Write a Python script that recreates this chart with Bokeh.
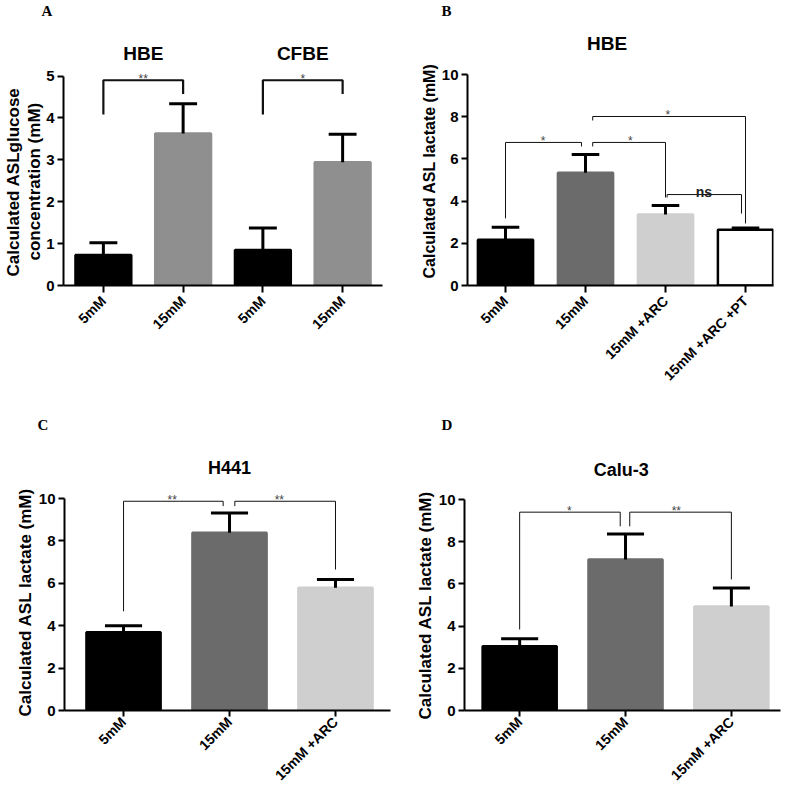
from bokeh.plotting import figure
from bokeh.models import FixedTicker, ColumnDataSource, Title
from bokeh.layouts import column, row
from bokeh.embed import file_html
from bokeh.resources import INLINE
from bokeh.core.properties import value
import math

# ---------------- data ----------------
a_labels = ["5mM", "15mM", "5mM", "15mM"]
a_means = [0.73, 3.63, 0.85, 2.94]
a_errs = [0.29, 0.71, 0.52, 0.67]
a_colors = ["#000000", "#8f8f8f", "#000000", "#8f8f8f"]
a_groups = ["HBE", "CFBE"]

b_labels = ["5mM", "15mM", "15mM +ARC", "15mM +ARC +PT"]
b_means = [2.17, 5.34, 3.36, 2.64]
b_errs = [0.59, 0.87, 0.43, 0.09]
b_colors = ["#000000", "#6b6b6b", "#cfcfcf", "#ffffff"]

c_labels = ["5mM", "15mM", "15mM +ARC"]
c_means = [3.69, 8.38, 5.79]
c_errs = [0.31, 0.94, 0.39]
c_colors = ["#000000", "#6b6b6b", "#cfcfcf"]

d_labels = ["5mM", "15mM", "15mM +ARC"]
d_means = [3.05, 7.16, 4.93]
d_errs = [0.35, 1.21, 0.88]
d_colors = ["#000000", "#6b6b6b", "#cfcfcf"]

# significance brackets: (x_left, x_right, y_top, y_left_end, y_right_end, text, text_x)
a_brackets = [(1, 2, 4.9, 4.08, 4.57, "**", 1.5), (3, 4, 4.9, 4.08, 4.57, "*", 3.5)]
b_brackets = [(1, 1.95, 6.78, 3.18, 6.59, "*", 1.47),
              (2.09, 3, 6.78, 6.59, 4.17, "*", 2.56),
              (2.09, 4, 8.01, 7.82, 2.94, "*", 3.03),
              (3.02, 3.95, 4.31, 4.17, 3.41, "ns", 3.48)]
c_brackets = [(1, 1.94, 9.87, 4.68, 9.64, "**", 1.46),
              (2.05, 3, 9.87, 9.64, 6.65, "**", 2.47)]
d_brackets = [(1, 1.95, 9.40, 3.84, 8.73, "*", 1.47),
              (2.04, 3, 9.40, 8.73, 6.21, "**", 2.48)]

SANS = "Liberation Sans"
SERIF = "Liberation Serif"


def panel(W, H, left, right, top, bottom, xr, px_per_unit, ymax_axis, ystep,
          labels, means, errs, colors, ylabels, ylabel_size, bar_w,
          brackets, bracket_w, letter, letter_offset, titles, title_size,
          xlabel_standoff=6, xtick_out=7, ylabel_standoff=2):
    frame_h = H - bottom - top
    y_end = frame_h / px_per_unit
    p = figure(width=W, height=H, x_range=xr, y_range=(0, y_end),
               output_backend="svg", toolbar_location=None, title=letter,
               min_border_left=left, min_border_right=right,
               min_border_top=top, min_border_bottom=bottom)
    # panel letter as the plot title
    p.title.align = "left"
    p.title.offset = letter_offset
    p.title.standoff = 0
    p.title.text_font = SERIF
    p.title.text_font_style = "bold"
    p.title.text_font_size = "15px"
    p.title.text_color = "black"

    p.outline_line_color = None
    p.grid.visible = False
    p.background_fill_color = "white"
    p.border_fill_color = "white"

    n = len(labels)
    xs = list(range(1, n + 1))
    src = ColumnDataSource(dict(x=xs, top=means, color=colors,
                                up=[m + e for m, e in zip(means, errs)]))
    src.data["lc"] = ["#000000" if c == "#ffffff" else c for c in colors]
    p.vbar(x="x", top="top", bottom=0, width=bar_w, fill_color="color",
           line_color="lc", line_width=2.5, source=src)
    # error bars (upper only)
    p.segment(x0="x", y0="top", x1="x", y1="up", line_color="black",
              line_width=3, source=src)
    p.segment(x0=[x - bar_w / 4 for x in xs], y0=src.data["up"],
              x1=[x + bar_w / 4 for x in xs], y1=src.data["up"],
              line_color="black", line_width=3)

    # brackets
    for (xl, xr2, yt, yl, yr, txt, tx) in brackets:
        p.line(x=[xl, xl, xr2, xr2], y=[yl, yt, yt, yr], line_color="#111111",
               line_width=bracket_w)
        if txt == "ns":
            p.text(x=[tx], y=[yt], text=[txt], text_align="center",
                   text_baseline="alphabetic", y_offset=-3,
                   text_font=value(SANS), text_font_size="14px",
                   text_font_style="bold", text_color="#222222")
        else:
            p.text(x=[tx], y=[yt], text=[txt], text_align="center",
                   text_baseline="alphabetic", y_offset=-1,
                   text_font=value(SANS), text_font_size="12px",
                   text_color="#444444")

    # group / cell-line titles
    for (tx, ty, tt) in titles:
        p.text(x=[tx], y=[ty], text=[tt], text_align="center",
               text_baseline="middle", text_font=value(SANS),
               text_font_size=title_size, text_font_style="bold",
               text_color="black")

    # axes
    xa = p.xaxis[0]
    xa.ticker = FixedTicker(ticks=xs)
    xa.major_label_overrides = {i + 1: l for i, l in enumerate(labels)}
    xa.major_label_orientation = math.pi / 4
    xa.major_label_text_font = SANS
    xa.major_label_text_font_style = "bold"
    xa.major_label_text_font_size = "14px"
    xa.major_label_text_color = "black"
    xa.axis_line_width = 2
    xa.axis_line_color = "black"
    xa.major_tick_line_width = 2
    xa.major_tick_line_color = "black"
    xa.major_tick_out = xtick_out
    xa.major_tick_in = 0
    xa.minor_tick_line_color = None
    xa.major_label_standoff = xlabel_standoff

    ya = p.yaxis[0]
    ya.ticker = FixedTicker(ticks=list(range(0, ymax_axis + 1, ystep)))
    ya.bounds = (0, ymax_axis)
    ya.major_label_text_font = SANS
    ya.major_label_text_font_style = "bold"
    ya.major_label_text_font_size = "15px"
    ya.major_label_text_color = "black"
    ya.axis_line_width = 2
    ya.axis_line_color = "black"
    ya.major_tick_line_width = 2
    ya.major_tick_line_color = "black"
    ya.major_tick_out = 6
    ya.major_tick_in = 0
    ya.minor_tick_line_color = None
    ya.major_label_standoff = 3

    # y-axis title lines (innermost first), placed as side titles
    for (txt, off) in ylabels:
        p.add_layout(Title(text=txt, align="left", offset=off,
                           standoff=ylabel_standoff,
                           text_font=SANS, text_font_style="bold",
                           text_font_size=ylabel_size, text_color="black"),
                     "left")
    return p


pA = panel(W=394, H=400, left=63, right=12, top=18, bottom=113, xr=(0.5, 4.5),
           px_per_unit=42.2, ymax_axis=5, ystep=1,
           labels=a_labels, means=a_means, errs=a_errs, colors=a_colors,
           ylabels=[("concentration (mM)", 25), ("Calculated ASLglucose", 9)],
           ylabel_size="17px", ylabel_standoff=0,
           bar_w=0.7, brackets=a_brackets, bracket_w=2.2,
           letter="A", letter_offset=-22,
           titles=[(1.5, 5.55, a_groups[0]), (3.5, 5.55, a_groups[1])],
           title_size="19px")

pB = panel(W=393, H=400, left=73, right=14, top=18, bottom=115, xr=(0.525, 4.35),
           px_per_unit=21.1, ymax_axis=10, ystep=2,
           labels=b_labels, means=b_means, errs=b_errs, colors=b_colors,
           ylabels=[("Calculated ASL lactate (mM)", 7)], ylabel_size="16px",
           bar_w=0.69, brackets=b_brackets, bracket_w=1,
           letter="B", letter_offset=-26,
           titles=[(2.27, 11.47, "HBE")], title_size="19px")

pC = panel(W=394, H=394, left=64, right=4, top=32, bottom=84, xr=(0.443, 3.519),
           px_per_unit=21.2, ymax_axis=10, ystep=2,
           labels=c_labels, means=c_means, errs=c_errs, colors=c_colors,
           ylabels=[("Calculated ASL lactate (mM)", -6)], ylabel_size="17px",
           bar_w=0.7, brackets=c_brackets, bracket_w=1,
           letter="C", letter_offset=-27,
           titles=[(2.0, 11.46, "H441")], title_size="18px",
           xlabel_standoff=3, xtick_out=6)

pD = panel(W=393, H=394, left=70, right=7, top=32, bottom=84, xr=(0.479, 3.464),
           px_per_unit=21.1, ymax_axis=10, ystep=2,
           labels=d_labels, means=d_means, errs=d_errs, colors=d_colors,
           ylabels=[("Calculated ASL lactate (mM)", -9)], ylabel_size="17px",
           bar_w=0.7, brackets=d_brackets, bracket_w=1,
           letter="D", letter_offset=-23,
           titles=[(1.96, 11.42, "Calu-3")], title_size="18px",
           xlabel_standoff=3, xtick_out=6)

layout = column(row(pA, pB), row(pC, pD))
open("out.html", "w").write(file_html(layout, INLINE))
